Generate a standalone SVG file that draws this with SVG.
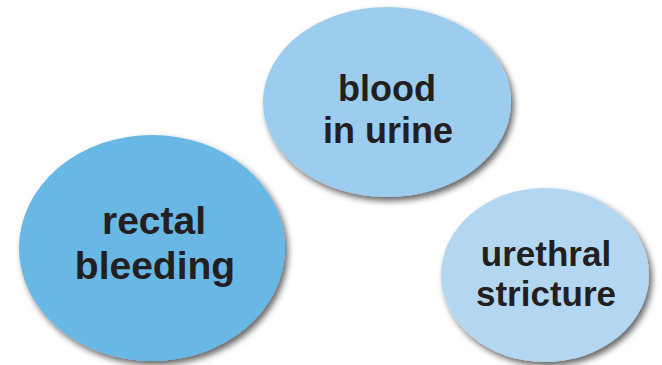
<svg xmlns="http://www.w3.org/2000/svg" width="662" height="365" viewBox="0 0 662 365">
<style>
  .lbl { font-family: "Liberation Sans", Arial, sans-serif; font-weight: bold; fill: #231f20; text-anchor: middle; }
</style>
<defs>
  <filter id="shadow" x="-20%" y="-20%" width="140%" height="140%">
    <feGaussianBlur in="SourceAlpha" stdDeviation="3" result="blur"/>
    <feOffset in="blur" dx="3" dy="4" result="off"/>
    <feFlood flood-color="#000000" flood-opacity="0.6"/>
    <feComposite in2="off" operator="in" result="sh"/>
    <feMerge>
      <feMergeNode in="sh"/>
      <feMergeNode in="SourceGraphic"/>
    </feMerge>
  </filter>
</defs>
<rect width="662" height="365" fill="#ffffff"/>
<g id="connectors"></g>
<g id="node-rectal-bleeding">
  <ellipse cx="152" cy="248" rx="133" ry="113" fill="#68b7e4" filter="url(#shadow)"/>
  <text class="lbl" font-size="39" x="154" y="234">rectal</text>
  <text class="lbl" font-size="39" x="155" y="279">bleeding</text>
</g>
<g id="node-blood-in-urine">
  <ellipse cx="387" cy="102" rx="124" ry="95" fill="#9ccdee" filter="url(#shadow)"/>
  <text class="lbl" font-size="36" x="387" y="101">blood</text>
  <text class="lbl" font-size="36" x="388" y="143">in urine</text>
</g>
<g id="node-urethral-stricture">
  <ellipse cx="545" cy="275" rx="104" ry="87" fill="#b4d7f1" filter="url(#shadow)"/>
  <text class="lbl" font-size="35" x="546" y="266">urethral</text>
  <text class="lbl" font-size="35" x="546" y="306">stricture</text>
</g>
</svg>
